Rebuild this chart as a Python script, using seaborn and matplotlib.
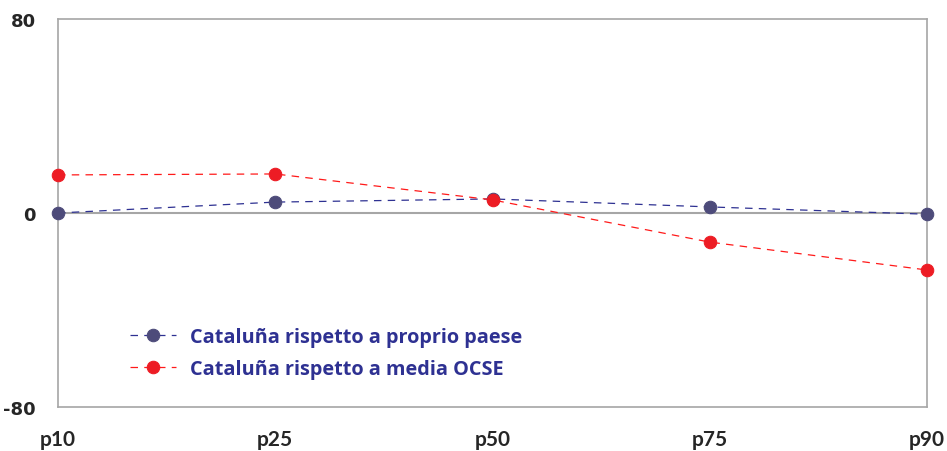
import matplotlib
matplotlib.use("Agg")
import matplotlib.pyplot as plt
import seaborn as sns
import pandas as pd

percentiles = ["p10", "p25", "p50", "p75", "p90"]
vs_country = [0.0, 4.5, 5.8, 2.5, -0.5]
vs_oecd = [15.7, 16.1, 5.4, -12.0, -23.5]
series_names = ["Cataluña rispetto a proprio paese", "Cataluña rispetto a media OCSE"]
y_ticks = [-80, 0, 80]

sns.set_theme(style="white")
plt.rcParams["font.family"] = ["DejaVu Sans"]

df = pd.DataFrame({
    "pos": list(range(len(percentiles))) * 2,
    "value": vs_country + vs_oecd,
    "serie": [series_names[0]] * len(percentiles) + [series_names[1]] * len(percentiles),
})

fig = plt.figure(figsize=(9.47, 4.52), dpi=100)
ax = fig.add_axes([58 / 947, 1 - 408 / 452, (927 - 58) / 947, (408 - 20) / 452])

ax.axhline(0, color="#A6A6A6", lw=1.5, zorder=1)

line_colors = {series_names[0]: "#2E3192", series_names[1]: "#FF1A1A"}
marker_colors = {series_names[0]: "#4D4B7A", series_names[1]: "#ED1C24"}

for name in series_names:
    sub = df[df["serie"] == name]
    sns.lineplot(data=sub, x="pos", y="value", ax=ax, color=line_colors[name],
                 lw=0.9, linestyle=(0, (6, 5)), marker="o", markersize=9,
                 markerfacecolor=marker_colors[name], markeredgecolor=marker_colors[name],
                 label=name, clip_on=False, zorder=3)

ax.set_xlim(0, len(percentiles) - 1)
ax.set_ylim(-80, 80)
ax.set_xticks(range(len(percentiles)))
ax.set_xticklabels(percentiles)
ax.set_yticks(y_ticks)
ax.set_yticklabels([str(v) for v in y_ticks])
ax.set_xlabel("")
ax.set_ylabel("")
ax.tick_params(axis="x", length=0, pad=16)
ax.tick_params(axis="y", length=0, pad=16, labelsize=13)
for lab in ax.get_xticklabels():
    lab.set_fontweight("bold")
    lab.set_family(["Lato", "DejaVu Sans"])
    lab.set_fontsize(15)
for lab in ax.get_yticklabels():
    lab.set_fontweight("bold")

for sp in ax.spines.values():
    sp.set_color("#A6A6A6")
    sp.set_linewidth(1.2)

leg = ax.legend(loc="center left", bbox_to_anchor=(0.083, 0.14), frameon=False,
                borderpad=0, borderaxespad=0,
                prop={"family": ["Open Sans", "DejaVu Sans"], "weight": "bold", "size": 14.3},
                handlelength=2.3, handletextpad=0.7, labelspacing=0.6)
for t in leg.get_texts():
    t.set_color("#2E3192")

fig.savefig("out.png", dpi=100)
